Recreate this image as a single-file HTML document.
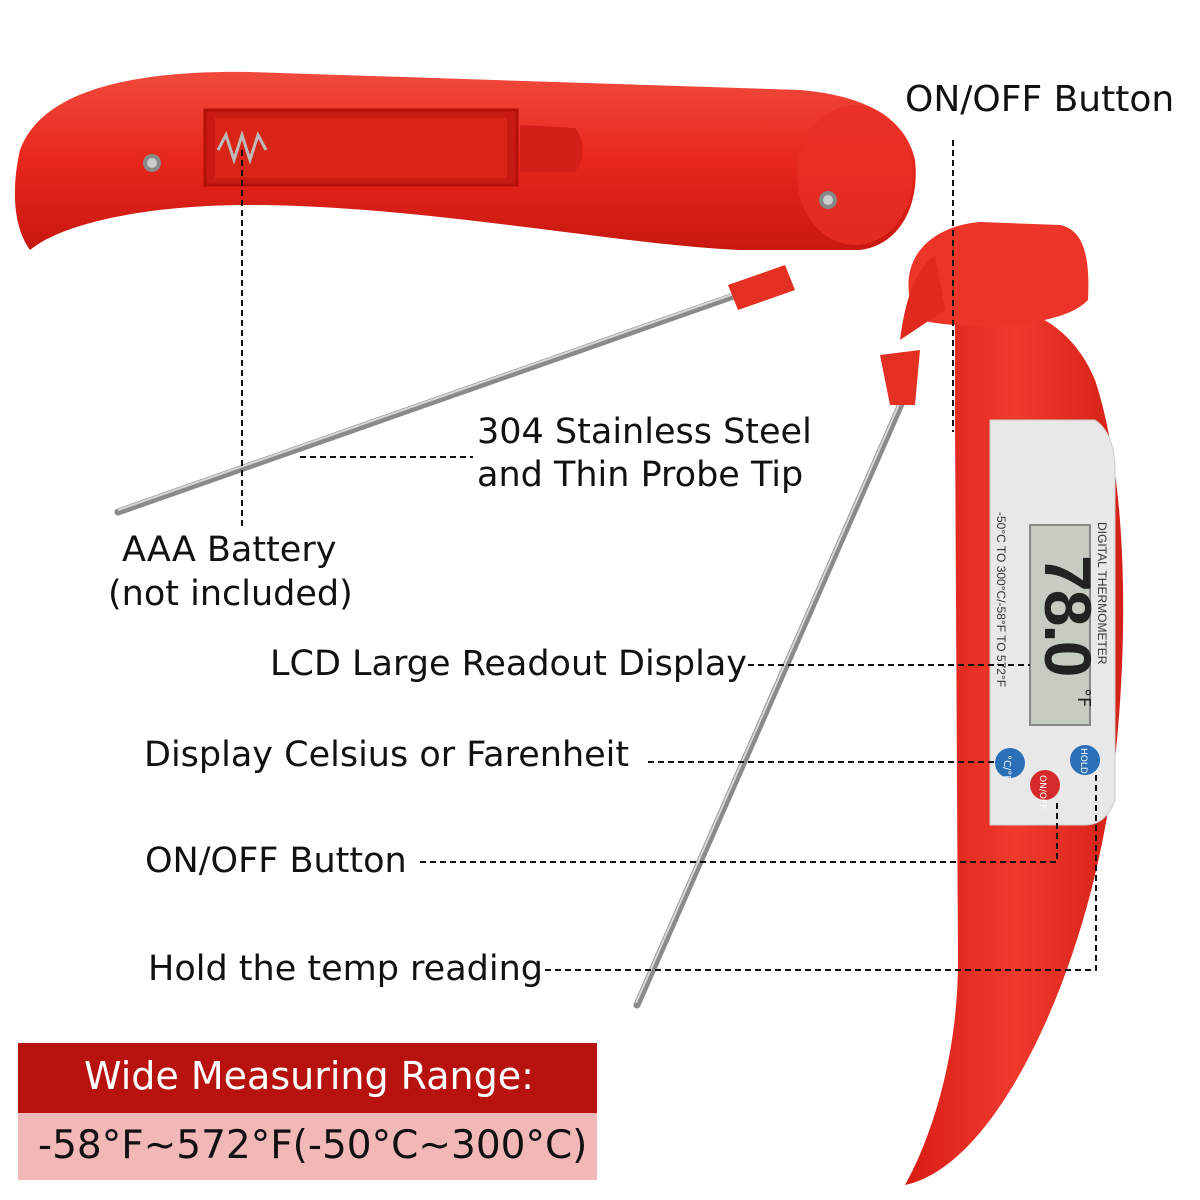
<!DOCTYPE html>
<html><head><meta charset="utf-8"><style>
html,body{margin:0;padding:0;background:#fff;}
body{width:1200px;height:1200px;position:relative;overflow:hidden;font-family:"DejaVu Sans","Liberation Sans",sans-serif;}
.t{position:absolute;color:#111;font-size:35px;white-space:nowrap;}
</style></head><body>
<svg width="1200" height="1200" style="position:absolute;left:0;top:0">
<defs>
<linearGradient id="red1" x1="0" y1="0" x2="0" y2="1">
<stop offset="0" stop-color="#f04a3c"/><stop offset="0.5" stop-color="#e8261c"/><stop offset="1" stop-color="#c81810"/></linearGradient>
<linearGradient id="red2" x1="0" y1="0" x2="1" y2="0">
<stop offset="0" stop-color="#d81c14"/><stop offset="0.5" stop-color="#f03a2e"/><stop offset="1" stop-color="#d42016"/></linearGradient>
</defs>
<line x1="745" y1="292" x2="118" y2="512" stroke="#8a8a8a" stroke-width="7" stroke-linecap="round"/>
<line x1="745" y1="290" x2="118" y2="510" stroke="#d8d8d8" stroke-width="2"/>
<path d="M728,285 L785,265 L795,290 L738,310 Z" fill="#e33022"/>
<path d="M20,150 C40,95 120,70 250,72 L800,90 C860,95 905,115 915,160 C920,205 900,245 860,250 L740,250 C620,245 420,205 250,205 C140,205 60,225 30,250 C12,225 12,185 20,150 Z" fill="url(#red1)"/>
<ellipse cx="855" cy="175" rx="58" ry="70" fill="#e83025" opacity="0.8"/>
<rect x="205" y="110" width="312" height="75" fill="#c81a12" stroke="#b31008" stroke-width="3"/>
<rect x="215" y="118" width="292" height="60" fill="#d92418"/>
<path d="M520,125 L575,128 C585,140 585,160 575,172 L520,172 Z" fill="#d22018"/>
<circle cx="152" cy="163" r="9" fill="#888"/><circle cx="152" cy="163" r="5" fill="#ccc"/>
<circle cx="828" cy="200" r="9" fill="#888"/><circle cx="828" cy="200" r="5" fill="#ccc"/>
<path d="M218,150 l8,-15 l8,25 l8,-25 l8,25 l8,-25 l8,15" stroke="#bbb" stroke-width="3" fill="none"/>
<line x1="905" y1="395" x2="637" y2="1005" stroke="#8a8a8a" stroke-width="7" stroke-linecap="round"/>
<line x1="904" y1="393" x2="636" y2="1003" stroke="#d8d8d8" stroke-width="2"/>
<path d="M880,355 L920,350 L915,405 L890,405 Z" fill="#e33022"/>
<path d="M955,300 C1020,300 1070,320 1095,380 C1125,470 1130,620 1115,760 C1100,900 1050,1040 990,1120 C960,1160 930,1180 905,1185 C930,1140 958,1060 958,960 L955,420 Z" fill="url(#red2)"/>
<path d="M910,300 C900,250 940,225 980,222 L1060,225 C1085,230 1090,260 1088,300 C1060,330 960,330 920,320 Z" fill="#ec3428"/>
<path d="M900,340 C905,300 915,270 935,255 L945,310 Z" fill="#e02a1e"/>
<path d="M990,420 L1095,420 C1110,430 1115,450 1115,470 L1115,800 C1110,815 1100,825 1085,825 L990,825 Z" fill="#e8e8e8" stroke="#ccc"/>
<rect x="1030" y="525" width="60" height="200" fill="#c7ccc3" stroke="#888" stroke-width="2"/>
<text x="0" y="0" transform="translate(1045,555) rotate(90)" font-family="Liberation Sans,sans-serif" font-size="66" font-weight="bold" fill="#222" letter-spacing="-2">78.0</text>
<text x="0" y="0" transform="translate(1078,688) rotate(90)" font-size="18" fill="#222">°F</text>
<text transform="translate(1098,522) rotate(90)" font-family="Liberation Sans,sans-serif" font-size="12" fill="#333">DIGITAL THERMOMETER</text>
<text transform="translate(997,512) rotate(90)" font-family="Liberation Sans,sans-serif" font-size="12" fill="#333">-50°C TO 300°C/-58°F TO 572°F</text>
<circle cx="1010" cy="763" r="15" fill="#2a6fb8"/><text transform="translate(1004,755) rotate(90)" font-size="10" fill="#fff">°C/°F</text>
<circle cx="1045" cy="785" r="15" fill="#d52a2a"/><text transform="translate(1040,775) rotate(90)" font-size="9" fill="#fff">ON/OFF</text>
<circle cx="1085" cy="760" r="15" fill="#2a6fb8"/><text transform="translate(1081,748) rotate(90)" font-size="9" fill="#fff">HOLD</text>
<g stroke="#111" stroke-width="2" fill="none" stroke-dasharray="6,4">
<path d="M953,140 L953,432"/>
<path d="M242,150 L242,530"/>
<path d="M300,457 L473,457"/>
<path d="M748,665 L1030,665"/>
<path d="M648,762 L995,762"/>
<path d="M420,862 L1057,862 L1057,800"/>
<path d="M545,970 L1096,970 L1096,775"/>
</g>
<rect x="18" y="1043" width="579" height="70" fill="#b8120e"/>
<rect x="18" y="1113" width="579" height="67" fill="#f2b8b8"/>
</svg>
<div class="t" style="left:905px;top:79px;font-size:36px;">ON/OFF Button</div>
<div class="t" style="left:477px;top:412px;">304 Stainless Steel</div>
<div class="t" style="left:477px;top:455px;">and Thin Probe Tip</div>
<div class="t" style="left:122px;top:530px;">AAA Battery</div>
<div class="t" style="left:108px;top:574px;">(not included)</div>
<div class="t" style="left:270px;top:644px;">LCD Large Readout Display</div>
<div class="t" style="left:144px;top:735px;">Display Celsius or Farenheit</div>
<div class="t" style="left:145px;top:841px;">ON/OFF Button</div>
<div class="t" style="left:148px;top:949px;">Hold the temp reading</div>
<div class="t" style="left:84px;top:1054px;color:#fff;font-size:38px;">Wide Measuring Range:</div>
<div class="t" style="left:38px;top:1123px;font-size:39px;">-58°F~572°F(-50°C~300°C)</div>
</body></html>
